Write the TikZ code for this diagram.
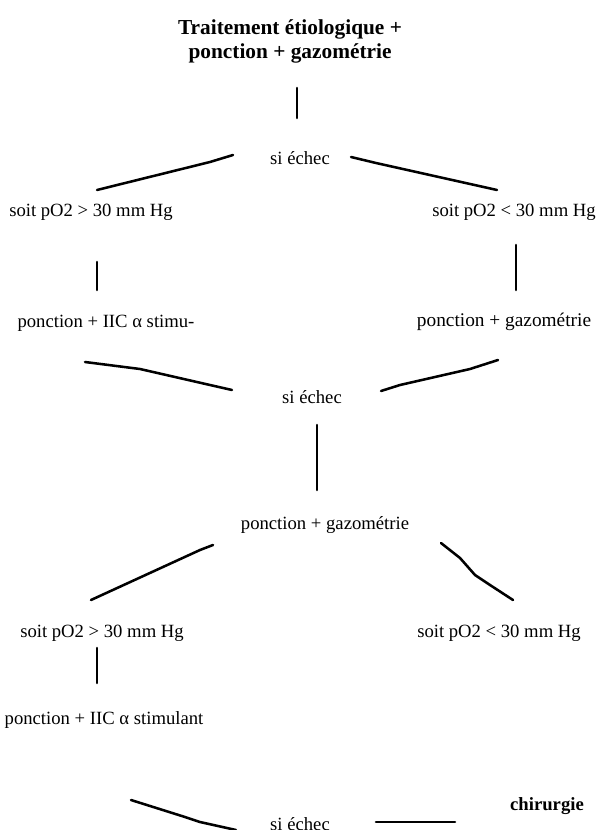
\documentclass[tikz,border=0pt]{standalone}
\usepackage{fontspec}
\setmainfont{Liberation Serif}
\usetikzlibrary{positioning}

\begin{document}
\begin{tikzpicture}[
  x=0.75pt, y=-0.75pt,
  txt/.style = {inner sep=2pt, font=\fontsize{14}{16}\selectfont},
  head/.style = {txt, align=center, font=\bfseries\fontsize{16}{18}\selectfont},
  wire/.style = {line width=1.9pt, line join=round, line cap=round}
]
  \useasboundingbox (0,0) rectangle (601,830);

  \node[head] (start) at (290,41) {Traitement étiologique +\\ponction + gazométrie};
  \node[txt] (fail1) at (300,158) {si échec};
  \node[txt] (highL) at (91,212)  {soit pO2 > 30 mm Hg};
  \node[txt] (lowR)  at (514,212) {soit pO2 < 30 mm Hg};
  \node[txt] (stimL) at (106,323) {ponction + IIC α stimu-};
  \node[txt, font=\fontsize{14.5}{16}\selectfont] (gazoR) at (504,322) {ponction + gazométrie};
  \node[txt] (fail2) at (312,397) {si échec};
  \node[txt] (gazo2) at (325,525) {ponction + gazométrie};
  \node[txt] (highL2) at (102,633) {soit pO2 > 30 mm Hg};
  \node[txt] (lowR2)  at (499,633) {soit pO2 < 30 mm Hg};
  \node[txt] (stim2)  at (104,720) {ponction + IIC α stimulant};
  \node[txt, anchor=base] (fail3) at (300,830) {si échec};
  \node[txt, font=\bfseries\fontsize{14}{16}\selectfont] (surg) at (547,806) {chirurgie};

  \draw[wire] ([shift={(7,47)}]start.center) -- ([shift={(-3,-40)}]fail1.center);
  \draw[wire] ([shift={(-67,-3)}]fail1.center) -- ([shift={(-90,4)}]fail1.center) -- ([shift={(6,-22)}]highL.center);
  \draw[wire] ([shift={(51,-1)}]fail1.center) -- ([shift={(76,5)}]fail1.center) -- ([shift={(-17,-22)}]lowR.center);
  \draw[wire] ([shift={(6,50)}]highL.center) -- ([shift={(-9,-33)}]stimL.center);
  \draw[wire] ([shift={(2,33)}]lowR.center) -- ([shift={(12,-32)}]gazoR.center);
  \draw[wire] ([shift={(-21,39)}]stimL.center) -- ([shift={(34,46)}]stimL.center) -- ([shift={(-102,-12)}]fail2.center) -- ([shift={(-80,-7)}]fail2.center);
  \draw[wire] ([shift={(-6,38)}]gazoR.center) -- ([shift={(-34,47)}]gazoR.center) -- ([shift={(88,-12)}]fail2.center) -- ([shift={(69,-6)}]fail2.center);
  \draw[wire] ([shift={(5,28)}]fail2.center) -- ([shift={(-8,-35)}]gazo2.center);
  \draw[wire] ([shift={(-112,20)}]gazo2.center) -- ([shift={(-125,25)}]gazo2.center) -- ([shift={(-11,-33)}]highL2.center);
  \draw[wire] ([shift={(116,18)}]gazo2.center) -- ([shift={(135,33)}]gazo2.center) -- ([shift={(-24,-58)}]lowR2.center) -- ([shift={(-9,-48)}]lowR2.center) -- ([shift={(14,-33)}]lowR2.center);
  \draw[wire] ([shift={(-5,15)}]highL2.center) -- ([shift={(-7,-37)}]stim2.center);
  \draw[wire] ([shift={(27,80)}]stim2.center) -- ([shift={(-115,-13)}]fail3.base) -- ([shift={(-100,-8)}]fail3.base) -- ([shift={(-64,0)}]fail3.base);
  \draw[wire] ([shift={(76,-8)}]fail3.base) -- ([shift={(-92,16)}]surg.center);
\end{tikzpicture}
\end{document}
